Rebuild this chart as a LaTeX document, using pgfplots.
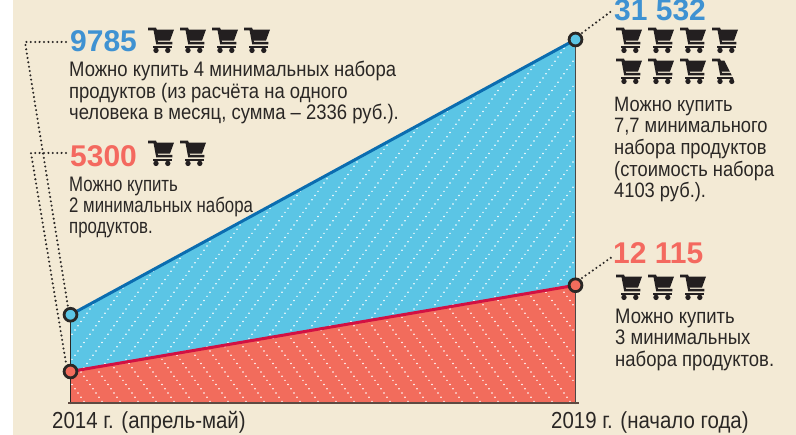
\documentclass[border=0pt]{standalone}
\usepackage{pgfplots}
\pgfplotsset{compat=1.18}
\usepackage{fontspec}
\setmainfont[FakeStretch=0.88]{Liberation Sans}
\newfontfamily\numfont{Liberation Sans}
\newfontfamily\narrowfont[FakeStretch=0.80]{Liberation Sans}
\usetikzlibrary{patterns}
\definecolor{cream}{HTML}{F3EAD5}
\definecolor{areablue}{HTML}{5BC5E5}
\definecolor{areared}{HTML}{F26C5C}
\definecolor{numblue}{HTML}{3F92D2}
\definecolor{numred}{HTML}{F4695F}
\definecolor{linkblue}{HTML}{0B6DB0}
\definecolor{linkred}{HTML}{D21143}
\definecolor{ink}{HTML}{2A2725}
\definecolor{cartc}{HTML}{231F20}
\definecolor{basec}{HTML}{5E4A42}
\pgfdeclarepatternformonly{dotsup}{\pgfqpoint{-1pt}{-1pt}}{\pgfqpoint{19pt}{26.2pt}}{\pgfqpoint{18pt}{25.2pt}}{%
  \foreach \i in {0,...,5}{\pgfpathcircle{\pgfpoint{\i*3pt}{\i*4.2pt}}{0.85pt}}\pgfusepath{fill}}
\pgfdeclarepatternformonly{dotsdown}{\pgfqpoint{-1pt}{-1pt}}{\pgfqpoint{19pt}{26.2pt}}{\pgfqpoint{18pt}{25.2pt}}{%
  \foreach \i in {0,...,5}{\pgfpathcircle{\pgfpoint{\i*3pt}{25.2pt-\i*4.2pt}}{0.85pt}}\pgfusepath{fill}}
\newcommand\TxtS[4]{\node[anchor=base west,inner sep=0pt,text=ink,font=\fontsize{#1}{#1}\selectfont] at ({#2*1pt},{(435-#3)*1pt}) {#4};}
\newcommand\Txt[3]{\TxtS{21}{#1}{#2}{#3}}
\newcommand\TxtN[3]{\node[anchor=base west,inner sep=0pt,text=ink,font=\fontsize{21}{21}\narrowfont] at ({#1*1pt},{(435-#2)*1pt}) {#3};}
\newcommand\Num[4]{\node[anchor=base west,inner sep=0pt,text=#3,font=\fontsize{30}{32}\numfont\bfseries] at ({#1*1pt},{(435-#2)*1pt}) {#4};}
\newcommand\cartbody{%
  \fill[cartc] (0,-0.3)--(8,-0.3)--(8.8,1.6)--(26,1.6)--(22,12.6)--(9.6,12.6)--(10,14)--(24.4,14)--(24.4,16.4)--(8.2,16.4)--(5.6,2.4)--(0,2.4)--cycle;
  \fill[cartc] (5,17.8)--(24.4,17.8)--(24.4,19.8)--(5,19.8)--cycle;
  \fill[cartc] (8,22.4) circle (2.7);
  \fill[cartc] (19.8,22.4) circle (2.7);}
\newcommand\cart[2]{\begin{scope}[shift={({#1*1pt},{(435-#2)*1pt})},x=1pt,y=-1pt]\cartbody\end{scope}}
\newcommand\partcart[2]{\begin{scope}[shift={({#1*1pt},{(435-#2)*1pt})},x=1pt,y=-1pt]\clip (0,-1)--(11,-1)--(24.5,26)--(0,26)--cycle;\cartbody\end{scope}}
\pgfplotsset{base/.style={at={(0pt,0pt)},anchor=south west,scale only axis,width=796pt,height=435pt,
  xmin=2013.302,xmax=2021.183,ymin=283,ymax=34654,hide axis,clip=true}}
\begin{document}
\begin{tikzpicture}
\useasboundingbox (0,0) rectangle (796pt,435pt);
\clip (0,0) rectangle (796pt,435pt);
\fill[white] (0,0) rectangle (796pt,435pt);
\fill[cream] (13pt,0) rectangle (796pt,435pt);
\begin{axis}[base]
\addplot[draw=none,fill=areared] coordinates {(2014,2811)(2014,5300)(2019,12115)(2019,2811)} --cycle;
\addplot[draw=none,pattern=dotsdown,pattern color=white] coordinates {(2014,2811)(2014,5300)(2019,12115)(2019,2811)} --cycle;
\addplot[draw=none,fill=areablue] coordinates {(2014,5300)(2014,9785)(2019,31532)(2019,12115)} --cycle;
\addplot[draw=none,pattern=dotsup,pattern color=white] coordinates {(2014,5300)(2014,9785)(2019,31532)(2019,12115)} --cycle;
% axis lines
\addplot[color=ink,line width=1.8pt] coordinates {(2014,2700)(2014,9785)};
\addplot[color=ink!85,line width=1.8pt] coordinates {(2019,2700)(2019,31532)};
\addplot[color=basec,line width=1.8pt] coordinates {(2013.98,2811)(2019.03,2811)};
% series
\addplot[color=linkblue,line width=3pt] coordinates {(2014,9785)(2019,31532)};
\addplot[color=linkred,line width=3pt] coordinates {(2014,5300)(2019,12115)};
\addplot[only marks,mark=*,mark size=6.4pt,mark options={draw=ink,line width=2.8pt,fill=areablue}] coordinates {(2014,9785)(2019,31532)};
\addplot[only marks,mark=*,mark size=6.4pt,mark options={draw=ink,line width=2.8pt,fill=areared}] coordinates {(2014,5300)(2019,12115)};
\end{axis}
% leaders
\tikzset{lead/.style={draw=ink,line width=2.3pt,line cap=round,dash pattern=on 0pt off 4.4pt}}
\draw[lead] (66pt,393pt)--(25pt,393pt)--(68pt,128pt);
\draw[lead] (66pt,282pt)--(31pt,282pt)--(66pt,72pt);
\draw[lead] (582pt,402pt)--(613pt,425pt);
\draw[lead] (582pt,157pt)--(612pt,178pt);
% texts
\Num{70}{52}{numblue}{9785}
\Num{70}{167}{numred}{5300}
\Num{614}{21}{numblue}{31 532}
\Num{613}{264}{numred}{12 115}
\Txt{69}{77}{Можно купить 4 минимальных набора}
\Txt{69}{98.7}{продуктов (из расчёта на одного}
\Txt{69}{120}{человека в месяц, сумма – 2336 руб.).}
\TxtN{69}{191.7}{Можно купить}
\TxtN{69}{213}{2 минимальных набора}
\TxtN{69}{234}{продуктов.}
\TxtS{20.8}{614}{112}{Можно купить}
\TxtS{20.8}{614}{133}{7,7 минимального}
\TxtS{20.8}{614}{155}{набора продуктов}
\TxtS{20.8}{614}{177}{(стоимость набора}
\TxtS{20.8}{614}{198}{4103 руб.).}
\Txt{615}{324}{Можно купить}
\Txt{615}{345}{3 минимальных}
\Txt{615}{367}{набора продуктов.}
\TxtS{23.2}{52}{429}{2014 г. (апрель-май)}
\TxtS{23.2}{551}{429}{2019 г. (начало года)}
% carts
\foreach \x in {148,180,212,244}{\cart{\x}{28}}
\foreach \x in {148,180}{\cart{\x}{141}}
\foreach \x in {616,648,680,712}{\cart{\x}{28}}
\foreach \x in {616,648,680}{\cart{\x}{59}}
\partcart{712}{59}
\foreach \x in {616,648,680}{\cart{\x}{275}}
\end{tikzpicture}
\end{document}
